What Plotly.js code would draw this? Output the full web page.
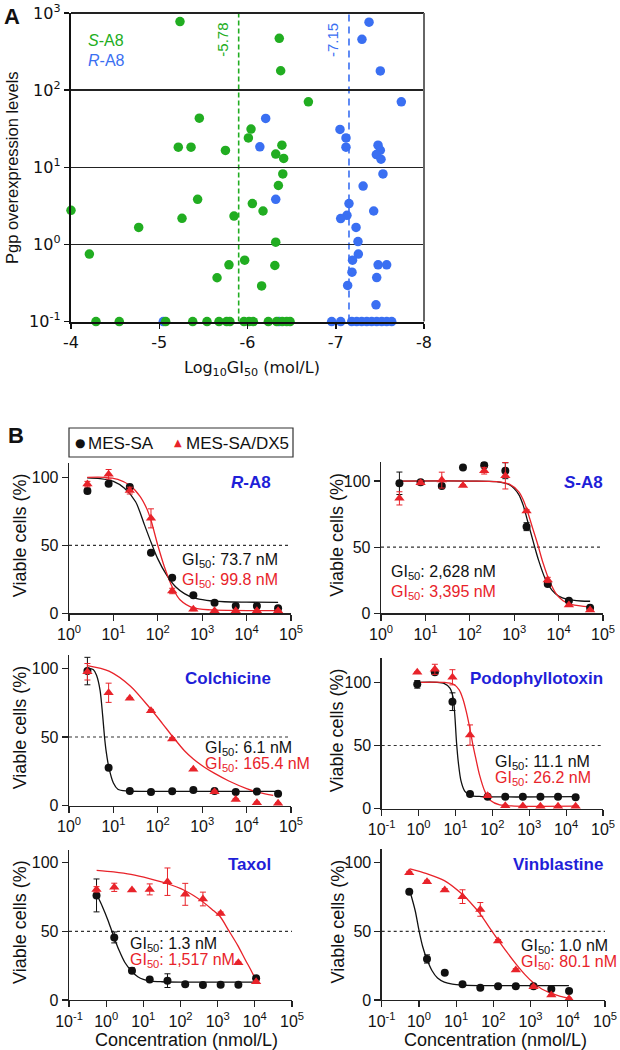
<!DOCTYPE html>
<html><head><meta charset="utf-8">
<script src="https://cdn.plot.ly/plotly-3.0.1.min.js"></script>
<style>body{margin:0;background:#fff}#chart{width:620px;height:1050px}</style>
</head><body><div id="chart"></div>
<script>
// ================= Panel A data =================
const sA8_logGI50 = [-5.235,-6.36,-6.376,-6.69,-5.454,-6.04,-6.01,-5.216,-5.36,-5.75,-6.39,-6.32,-6.41,-6.40,-6.35,-5.435,-6.055,-6.176,-4.0,-5.258,-5.847,-4.767,-6.32,-4.208,-5.968,-5.79,-6.31,-5.655,-6.16,
  -4.283,-4.547,-5.073,-5.379,-5.541,-5.677,-5.764,-5.80,-5.96,-6.017,-6.066,-6.236,-6.331,-6.394,-6.444,-6.482];
const sA8_pgp = [771,468,178,70.5,43.3,31.2,24.0,18.2,18.2,16.5,19.3,14.8,13.0,8.2,5.8,3.84,3.38,2.71,2.77,2.18,2.33,1.66,1.07,0.75,0.625,0.545,0.533,0.37,0.29,
  0.1,0.1,0.1,0.1,0.1,0.1,0.1,0.1,0.1,0.1,0.1,0.1,0.1,0.1,0.1,0.1];
const rA8_logGI50 = [-7.377,-7.297,-7.505,-7.743,-6.206,-6.14,-6.32,-7.048,-7.116,-7.116,-7.479,-7.505,-7.46,-7.513,-7.535,-7.31,-7.15,-7.43,-7.127,-7.056,-7.23,-7.252,-7.256,-7.19,-7.48,-7.577,-7.184,-7.464,-7.135,-7.456,
  -5.046,-6.357,-6.954,-7.056,-7.181,-7.237,-7.294,-7.351,-7.407,-7.464,-7.521,-7.577,-7.634];
const rA8_pgp = [757,455,177,70.5,42.9,18.4,3.84,30.9,24,18.2,19.3,16.6,14.6,12.7,8.2,5.7,3.38,2.71,2.38,2.16,1.66,1.09,0.75,0.625,0.545,0.545,0.437,0.372,0.294,0.165,
  0.1,0.1,0.1,0.1,0.1,0.1,0.1,0.1,0.1,0.1,0.1,0.1,0.1];
const meanLinePos = [-5.9, -7.15];
const meanLabels = ['-5.78', '-7.15'];
const xTicksA = [-4,-5,-6,-7,-8];
const xTickTextA = ['-4','-5','-6','-7','-8'];
const yTicksA = [0.1,1,10,100,1000];
const yTickTextA = ['10<sup>-1</sup>','10<sup>0</sup>','10<sup>1</sup>','10<sup>2</sup>','10<sup>3</sup>'];

// ================= Panel B data =================
const concA = [2.6,7.8,23.4,70.2,211,632,1897,5690,17070,51200];
const concPodo = [0.92,2.76,8.28,24.8,74.5,224,671,2012,6037,18110];
const concTV = [0.55,1.65,4.95,14.85,44.6,134,401,1203,3609,10830];

const rA8_blk = [90,95.3,92.9,44.6,26.2,13.2,7.8,5.4,5.4,3.7];
const rA8_blkErr = [2,1,1.5,1,1,1,0.5,0.5,0.5,0.5];
const rA8_red = [95,102.2,90.2,69.8,16.4,2.9,1.9,1.9,1.9,1.9];
const rA8_redErr = [2,3.5,2.5,7,2,1,0.5,0.5,0.5,0.5];
const rA8_fitBlkX = [0.41,0.7,1.0,1.25,1.5,1.7,1.85,2.0,2.2,2.4,2.6,2.8,3.1,3.5,4.0,4.71];
const rA8_fitBlkY = [99.5,99,97,92,82,65,52,40,28,19.5,14.5,11.5,9.5,8.5,8.2,8];
const rA8_fitRedX = [0.41,0.8,1.1,1.374,1.6,1.75,1.85,2.0,2.15,2.33,2.5,2.8,3.2,4.71];
const rA8_fitRedY = [100,100,98.5,94,86,77,68,50,34,19,10,4,2.5,2];

const sA8_blk = [98.3,99.0,96.2,110.3,112,107.8,65.5,22.1,9.5,4.2];
const sA8_blkErr = [8.5,1,1.5,0.5,2,6,3,1,0.5,0.5];
const sA8_red = [86.9,98.7,100.7,96.7,107.8,104,77.3,25.2,6.3,2.5];
const sA8_redErr = [5,1.5,6,0.5,2.5,10,1,2,0.5,0.5];
const sA8_fitBlkX = [0.415,2.0,2.6,2.9,3.1,3.2,3.3,3.43,3.55,3.7,3.85,4.0,4.2,4.5,4.71];
const sA8_fitBlkY = [100,100,99.5,97,90,82,70,54,40,26,17.5,13,10.5,9.3,9.1];
const sA8_fitRedX = [0.415,2.0,2.6,2.9,3.1,3.2,3.3,3.4,3.53,3.65,3.8,3.95,4.1,4.3,4.71];
const sA8_fitRedY = [100,100,99.5,97.5,92,86,77,66,52,38,24,14.5,9.5,6.5,4.8];

const col_blk = [98,27.7,10.7,10,10.5,11.4,10.7,10,10.3,8.7];
const col_blkErr = [10,0.5,0.5,0.5,0.5,0.5,0.5,0.5,0.5,0.5];
const col_red = [97.5,82.2,78.2,69.1,48.5,26.5,10.2,4.6,2.2,1.7];
const col_redErr = [6,7,0.5,1,1,0.5,1,0.5,0.5,0.5];
const col_fitBlkX = [0.413,0.55,0.62,0.7,0.76,0.8,0.833,0.9,1.0,1.1,1.3,2.0,4.73];
const col_fitBlkY = [100,99,95,84,65,50,40.5,27.5,16.5,12,10.7,10.5,10.5];
const col_fitRedX = [0.413,0.9,1.385,1.85,2.1,2.33,2.6,2.8,3.05,3.28,3.6,4.0,4.3,4.6];
const col_fitRedY = [102,98,87,70,60,50.5,40,34,28,23.5,18,12.5,9.5,7.5];

const pod_blk = [98.4,107.9,84.7,11.6,9.5,9.5,9.5,9.5,9.5,9.0];
const pod_blkErr = [3,1,7,0.5,0.5,0.5,0.5,0.5,0.5,0.5];
const pod_red = [107.9,110.3,104,58.3,10.3,2.4,2.1,2,2,2];
const pod_redErr = [0.5,4,6,8,1,0.5,0.5,0.5,0.5,0.5];
const pod_fitBlkX = [-0.037,0.5,0.7,0.85,0.936,0.98,1.03,1.08,1.15,1.25,1.4,1.7,4.27];
const pod_fitBlkY = [100,100,99,95.5,88,75,52,36,22,14,10.6,9.6,9.5];
const pod_fitRedX = [-0.037,0.7,0.95,1.1,1.2,1.3,1.4,1.47,1.55,1.65,1.8,1.95,2.2,2.6,4.27];
const pod_fitRedY = [100,100,98.5,94,87,76,62,51,40,27,13.5,6.5,3,2.1,2];

const tax_blk = [76.2,45.6,21.4,15.0,14.1,11.4,10.9,11.2,11.2,15.8];
const tax_blkErr = [12,4,2,0.5,5,0.5,0.5,0.5,0.5,1];
const tax_red = [80.6,82.1,80.1,80.6,86.2,77,73.6,63.1,27.2,13.3];
const tax_redErr = [2,3,0.5,4,10,8,5,1,0.5,0.5];
const tax_fitBlkX = [-0.256,-0.1,0.05,0.2,0.35,0.5,0.667,0.85,1.0,1.2,1.5,2.0,4.02];
const tax_fitBlkY = [77,68,58,46.5,36,27.5,21.5,17,15,13.8,13.3,13,13];
const tax_fitRedX = [-0.256,0.2,0.667,1.16,1.626,2.1,2.58,2.85,3.06,3.3,3.535,3.75,3.9,4.02];
const tax_fitRedY = [94.5,93.3,91.5,88.5,85,80,72,66,61,50.5,40,29,21.5,15];

const vin_blk = [78.9,29.9,19.9,11.4,9.0,10,10,10,8,6.6];
const vin_blkErr = [0.5,3,0.5,0.5,0.5,0.5,0.5,0.5,0.5,0.5];
const vin_red = [92.7,86.2,80.1,75.3,66,43,21.8,9.7,3.6,0.9];
const vin_redErr = [1,1,1,5,5,1,1,1,0.5,0.5];
const vin_fitBlkX = [-0.239,-0.1,0.0,0.1,0.21,0.35,0.5,0.683,0.9,1.167,1.6,4.03];
const vin_fitBlkY = [79,65,51,39,30,21.5,16,13,11.5,10.8,10.5,10.5];
const vin_fitRedX = [-0.239,0.21,0.683,1.167,1.4,1.64,1.9,2.12,2.36,2.6,2.85,3.075,3.3,3.55,3.8,4.03];
const vin_fitRedY = [95.5,92,87,77,70.5,63,52.5,44,35,26.5,18.5,12.5,8,5,2.7,1.3];

const drugNames = ['<i>R</i>-A8','<i>S</i>-A8','Colchicine','Podophyllotoxin','Taxol','Vinblastine'];
const gi50Black = ['73.7 nM','2,628 nM','6.1 nM','11.1 nM','1.3 nM','1.0 nM'];
const gi50Red = ['99.8 nM','3,395 nM','165.4 nM','26.2 nM','1,517 nM','80.1 nM'];
const seriesNames = ['MES-SA','MES-SA/DX5'];
const xTickValsB = [0.1,1,10,100,1000,10000,100000];
const xTickTextB = ['10<sup>-1</sup>','10<sup>0</sup>','10<sup>1</sup>','10<sup>2</sup>','10<sup>3</sup>','10<sup>4</sup>','10<sup>5</sup>'];
const yTickValsB = [0,50,100];

// ================= build =================
const W = 620, H = 1050;
const PX = p => p / W, PY = p => 1 - p / H;
const ARIAL = 'Liberation Sans, Arial, sans-serif';
const DEJA = 'DejaVu Sans, Verdana, sans-serif';
const GREEN = '#21ad21', BLUE = '#3a6ff2', RED = '#e8232a', BLACK = '#111111', TITLEBLUE = '#1f1fd8';

const data = [];
const annotations = [];
const shapes = [];
const layout = {
  width: W, height: H, margin: {l:0,r:0,t:0,b:0}, showlegend: false,
  paper_bgcolor: '#fff', plot_bgcolor: '#fff',
  font: {family: ARIAL, color: BLACK},
};

// ---- Panel A ----
data.push({type:'scatter', mode:'markers', x:rA8_logGI50, y:rA8_pgp, xaxis:'x', yaxis:'y', name:'R-A8',
  marker:{color:BLUE, size:9.5}, cliponaxis:false});
data.push({type:'scatter', mode:'markers', x:sA8_logGI50, y:sA8_pgp, xaxis:'x', yaxis:'y', name:'S-A8',
  marker:{color:GREEN, size:9.5}, cliponaxis:false});
layout.xaxis = {domain:[PX(71),PX(424)], anchor:'y', range:[-4,-8], tickvals:xTicksA, ticktext:xTickTextA,
  ticks:'outside', ticklen:5, tickwidth:1.5, tickcolor:'#111', showline:true, linecolor:'#111', linewidth:2,
  showgrid:false, zeroline:false, tickfont:{family:DEJA, size:16, color:'#111'}};
layout.yaxis = {domain:[PY(321.6),PY(12.9)], anchor:'x', type:'log', range:[-1,3], tickvals:yTicksA, ticktext:yTickTextA,
  ticks:'outside', ticklen:5, tickwidth:1.5, tickcolor:'#111', showline:true, linecolor:'#111', linewidth:2.2,
  showgrid:true, gridcolor:'#222', gridwidth:1.3, zeroline:false, tickfont:{family:DEJA, size:16, color:'#111'}};
shapes.push({type:'line', xref:'x domain', yref:'y domain', x0:0, x1:1, y0:1, y1:1, line:{color:'#222', width:2}, layer:'above'});
shapes.push({type:'line', xref:'x domain', yref:'y domain', x0:1, x1:1, y0:0, y1:1, line:{color:'#666', width:2}, layer:'above'});
const meanColors = [GREEN, BLUE];
const meanDash = ['5px,3px','7px,5px'];
meanLinePos.forEach((v,i) => {
  shapes.push({type:'line', xref:'x', yref:'y domain', x0:v, x1:v, y0:0, y1:1, line:{color:meanColors[i], width:1.6, dash:meanDash[i]}, layer:'below'});
  annotations.push({xref:'x', yref:'paper', x:v, y:PY(40), text:meanLabels[i], showarrow:false, textangle:-90,
    xanchor:'center', yanchor:'middle', xshift:-16, font:{family:ARIAL, size:15, color:meanColors[i]}});
});
annotations.push({xref:'paper', yref:'paper', x:PX(86), y:PY(41), text:'<i>S</i>-A8', showarrow:false, xanchor:'left', yanchor:'middle', font:{family:ARIAL,size:16,color:GREEN}});
annotations.push({xref:'paper', yref:'paper', x:PX(86), y:PY(61), text:'<i>R</i>-A8', showarrow:false, xanchor:'left', yanchor:'middle', font:{family:ARIAL,size:16,color:BLUE}});
annotations.push({xref:'paper', yref:'paper', x:PX(12), y:PY(168), text:'Pgp overexpression levels', textangle:-90, showarrow:false, xanchor:'center', yanchor:'middle', font:{family:ARIAL,size:16.5,color:BLACK}});
annotations.push({xref:'paper', yref:'paper', x:PX(252), y:PY(368), text:'Log<sub>10</sub>GI<sub>50</sub> (mol/L)', showarrow:false, xanchor:'center', yanchor:'middle', font:{family:DEJA,size:16,color:BLACK}});
annotations.push({xref:'paper', yref:'paper', x:PX(2), y:PY(16), text:'<b>A</b>', showarrow:false, xanchor:'left', yanchor:'middle', font:{family:ARIAL,size:22,color:BLACK}});
annotations.push({xref:'paper', yref:'paper', x:PX(6), y:PY(436), text:'<b>B</b>', showarrow:false, xanchor:'left', yanchor:'middle', font:{family:ARIAL,size:22,color:BLACK}});

// ---- Panel B legend (text symbols inside a framed box) ----
shapes.push({type:'rect', xref:'paper', yref:'paper', x0:PX(69), x1:PX(293), y0:PY(457), y1:PY(428), line:{color:'#333', width:1.2}, fillcolor:'rgba(0,0,0,0)'});
annotations.push({xref:'paper', yref:'paper', x:PX(80), y:PY(443), text:'●', showarrow:false, xanchor:'center', yanchor:'middle', font:{family:DEJA,size:12,color:BLACK}});
annotations.push({xref:'paper', yref:'paper', x:PX(86), y:PY(443), text:seriesNames[0], showarrow:false, xanchor:'left', yanchor:'middle', font:{family:ARIAL,size:17,color:BLACK}});
annotations.push({xref:'paper', yref:'paper', x:PX(178), y:PY(442), text:'▲', showarrow:false, xanchor:'center', yanchor:'middle', font:{family:DEJA,size:10,color:RED}});
annotations.push({xref:'paper', yref:'paper', x:PX(184), y:PY(443), text:seriesNames[1], showarrow:false, xanchor:'left', yanchor:'middle', font:{family:ARIAL,size:17,color:BLACK}});

// ---- Panel B ----
const panelsB = [
  {conc:concA, blk:rA8_blk, blkErr:rA8_blkErr, red:rA8_red, redErr:rA8_redErr, fbx:rA8_fitBlkX, fby:rA8_fitBlkY, frx:rA8_fitRedX, fry:rA8_fitRedY,
   dx:[69,291], dy:[463,613.3], xr:[0,5], yr:[0,110.5], title:[273,482], gi:[180,560,580], yt:20},
  {conc:concA, blk:sA8_blk, blkErr:sA8_blkErr, red:sA8_red, redErr:sA8_redErr, fbx:sA8_fitBlkX, fby:sA8_fitBlkY, frx:sA8_fitRedX, fry:sA8_fitRedY,
   dx:[381,603], dy:[462,613.3], xr:[0,5], yr:[0,114.4], title:[605,482], gi:[389,572,592], yt:337},
  {conc:concA, blk:col_blk, blkErr:col_blkErr, red:col_red, redErr:col_redErr, fbx:col_fitBlkX, fby:col_fitBlkY, frx:col_fitRedX, fry:col_fitRedY,
   dx:[69,291], dy:[655,805.7], xr:[0,5], yr:[0,109.7], title:[273,678], gi:[203,748,764], yt:20},
  {conc:concPodo, blk:pod_blk, blkErr:pod_blkErr, red:pod_red, redErr:pod_redErr, fbx:pod_fitBlkX, fby:pod_fitBlkY, frx:pod_fitRedX, fry:pod_fitRedY,
   dx:[381.7,603], dy:[657.7,808.7], xr:[-1,5], yr:[0,119.5], title:[605,678], gi:[493,762,778], yt:337},
  {conc:concTV, blk:tax_blk, blkErr:tax_blkErr, red:tax_red, redErr:tax_redErr, fbx:tax_fitBlkX, fby:tax_fitBlkY, frx:tax_fitRedX, fry:tax_fitRedY,
   dx:[69,292], dy:[850,1000], xr:[-1,5], yr:[0,109.3], title:[273,864], gi:[128,944,960], yt:20, xt:186},
  {conc:concTV, blk:vin_blk, blkErr:vin_blkErr, red:vin_red, redErr:vin_redErr, fbx:vin_fitBlkX, fby:vin_fitBlkY, frx:vin_fitRedX, fry:vin_fitRedY,
   dx:[381.7,605], dy:[849,1000], xr:[-1,5], yr:[0,110], title:[605,864], gi:[519,946,962], yt:337, xt:495},
];
const pow10 = arr => arr.map(v => Math.pow(10, v));
panelsB.forEach((p, i) => {
  const n = i + 2, xa = 'x' + n, ya = 'y' + n;
  data.push({type:'scatter', mode:'lines', x:pow10(p.fbx), y:p.fby, xaxis:xa, yaxis:ya,
    line:{color:BLACK, width:1.3, shape:'spline', smoothing:0.8}, hoverinfo:'skip'});
  data.push({type:'scatter', mode:'lines', x:pow10(p.frx), y:p.fry, xaxis:xa, yaxis:ya,
    line:{color:RED, width:1.3, shape:'spline', smoothing:0.8}, hoverinfo:'skip'});
  data.push({type:'scatter', mode:'markers', x:p.conc, y:p.blk, xaxis:xa, yaxis:ya, name:seriesNames[0],
    marker:{color:BLACK, size:8, symbol:'circle'}, cliponaxis:false,
    error_y:{type:'data', array:p.blkErr, visible:true, color:BLACK, thickness:1, width:3}});
  data.push({type:'scatter', mode:'markers', x:p.conc, y:p.red, xaxis:xa, yaxis:ya, name:seriesNames[1],
    marker:{color:RED, size:9, symbol:'triangle-up'}, cliponaxis:false,
    error_y:{type:'data', array:p.redErr, visible:true, color:RED, thickness:1, width:3}});
  layout['xaxis' + n] = {domain:[PX(p.dx[0]),PX(p.dx[1])], anchor:ya, type:'log', range:p.xr, tickvals:xTickValsB, ticktext:xTickTextB,
    ticks:'outside', ticklen:6, tickwidth:1.2, tickcolor:'#222', showline:true, linecolor:'#222', linewidth:1.3,
    showgrid:false, zeroline:false, tickfont:{family:ARIAL, size:16, color:BLACK}};
  layout['yaxis' + n] = {domain:[PY(p.dy[1]),PY(p.dy[0])], anchor:xa, range:p.yr, tickvals:yTickValsB,
    ticks:'outside', ticklen:6, tickwidth:1.2, tickcolor:'#222', showline:true, linecolor:'#222', linewidth:1.3,
    showgrid:false, zeroline:false, tickfont:{family:ARIAL, size:16, color:BLACK}};
  shapes.push({type:'line', xref:xa + ' domain', yref:ya, x0:0, x1:1, y0:50, y1:50, line:{color:'#333', width:1.2, dash:'dot'}, layer:'below'});
  annotations.push({xref:'paper', yref:'paper', x:PX(p.title[0]), y:PY(p.title[1]), text:'<b>' + drugNames[i] + '</b>', showarrow:false,
    xanchor:'right', yanchor:'middle', font:{family:ARIAL, size:17, color:TITLEBLUE}});
  annotations.push({xref:'paper', yref:'paper', x:PX(p.gi[0]), y:PY(p.gi[1]), text:'GI<sub>50</sub>: ' + gi50Black[i], showarrow:false,
    xanchor:'left', yanchor:'middle', font:{family:ARIAL, size:16, color:BLACK}});
  annotations.push({xref:'paper', yref:'paper', x:PX(p.gi[0]), y:PY(p.gi[2]), text:'GI<sub>50</sub>: ' + gi50Red[i], showarrow:false,
    xanchor:'left', yanchor:'middle', font:{family:ARIAL, size:16, color:RED}});
  annotations.push({xref:'paper', yref:'paper', x:PX(p.yt), y:PY((p.dy[0]+p.dy[1])/2 - 3), text:'Viable cells (%)', textangle:-90, showarrow:false,
    xanchor:'center', yanchor:'middle', font:{family:ARIAL, size:18, color:BLACK}});
  if (p.xt) annotations.push({xref:'paper', yref:'paper', x:PX(p.xt), y:PY(1040), text:'Concentration (nmol/L)', showarrow:false,
    xanchor:'center', yanchor:'middle', font:{family:ARIAL, size:18, color:BLACK}});
});
layout.annotations = annotations;
layout.shapes = shapes;
Plotly.newPlot('chart', data, layout, {staticPlot:true, displayModeBar:false});
</script></body></html>
